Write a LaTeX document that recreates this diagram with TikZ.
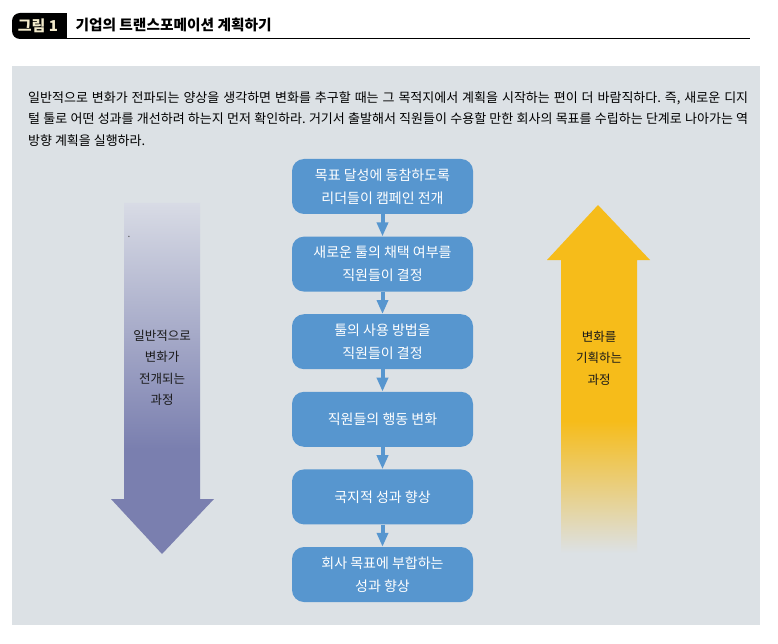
\documentclass[tikz,border=0pt]{standalone}
\usepackage{fontspec}
\setmainfont{Noto Sans CJK KR}
\frenchspacing
\usetikzlibrary{positioning}
\usetikzlibrary{arrows.meta}
\definecolor{panelgray}{HTML}{DCE1E5}
\definecolor{boxblue}{HTML}{5796CF}
\definecolor{downblue}{HTML}{7A7FAF}
\definecolor{downtop}{HTML}{D8DBE5}
\definecolor{upyellow}{HTML}{F6BC1A}
\definecolor{badgetext}{HTML}{F2EACB}
\pgfdeclareverticalshading{downfade}{100bp}{color(0bp)=(downblue); color(40bp)=(downblue); color(75bp)=(downtop); color(100bp)=(downtop)}
\pgfdeclareverticalshading{upfade}{100bp}{color(0bp)=(panelgray); color(25bp)=(panelgray); color(44bp)=(upyellow); color(100bp)=(upyellow)}
\tikzset{stepbox/.style={rounded corners=12pt,fill=boxblue,text=white,minimum width=181pt,minimum height=55pt,inner sep=0pt,align=center,font=\fontsize{14}{23}\selectfont}}
\tikzset{flow/.style={draw=boxblue,line width=4pt,-{Triangle[width=11pt,length=14pt]}}}
\tikzset{sidetext/.style={align=center,text=black!90,font=\fontsize{12.5}{21.5}\selectfont}}

\begin{document}
\begin{tikzpicture}[x=1pt,y=-1pt]
\useasboundingbox (0,0) rectangle (778,644);
% title
\fill[black,rounded corners=8pt] (40,13) -- (12,13) -- (12,39) -- (40,39);
\fill[black] (30,13) rectangle (67,39);
\node[text=badgetext,font=\bfseries\fontsize{15}{15}\selectfont] (badge) at (38,26) {그림 1};
\node[anchor=west,font=\bfseries\fontsize{14.7}{14.7}\selectfont] (title) at (72,25) {기업의 트랜스포메이션 계획하기};
\draw[line width=1pt] (67,38.5) -- (750,38.5);

% panel
\fill[panelgray] (12,66) rectangle (760,625);
\node[anchor=north west,align=left,inner sep=0pt,font=\fontsize{13}{21.5}\selectfont] (intro) at (28,91)
  {\makebox[720pt][s]{일반적으로 변화가 전파되는 양상을 생각하면 변화를 추구할 때는 그 목적지에서 계획을 시작하는 편이 더 바람직하다. 즉, 새로운 디지}\\
   \makebox[720pt][s]{털 툴로 어떤 성과를 개선하려 하는지 먼저 확인하라. 거기서 출발해서 직원들이 수용할 만한 회사의 목표를 수립하는 단계로 나아가는 역}\\
   방향 계획을 실행하라.};

% side arrows
\shade[shading=downfade] (124,203) -- (200,203) -- (200,499) -- (214,499) -- (162,554) -- (111,499) -- (124,499) -- cycle;
\shade[shading=upfade] (598,205) -- (650,260) -- (637,260) -- (637,553) -- (561,553) -- (561,260) -- (547,260) -- cycle;
\node[sidetext] (down) at (162,368) {일반적으로\\변화가\\전개되는\\과정};
\node[sidetext] (up) at (599,358) {변화를\\기획하는\\과정};
\node[text=black!70,inner sep=0pt,font=\fontsize{10}{10}\selectfont] (dot) at (129,237) {.};

% steps
\node[stepbox] (b1) at (382.5,186.5) {목표 달성에 동참하도록\\리더들이 캠페인 전개};
\node[stepbox,below=22.2pt of b1] (b2) {새로운 툴의 채택 여부를\\직원들이 결정};
\node[stepbox,below=22.2pt of b2] (b3) {툴의 사용 방법을\\직원들이 결정};
\node[stepbox,below=22.2pt of b3] (b4) {직원들의 행동 변화};
\node[stepbox,below=22.2pt of b4] (b5) {국지적 성과 향상};
\node[stepbox,below=22.2pt of b5] (b6) {회사 목표에 부합하는\\성과 향상};

\foreach \a/\b in {b1/b2,b2/b3,b3/b4,b4/b5,b5/b6}
  \draw[flow] (\a) -- (\b);
\end{tikzpicture}
\end{document}
